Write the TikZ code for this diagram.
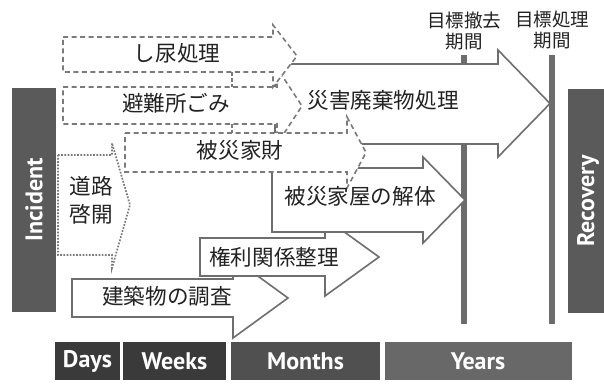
\documentclass[tikz,border=0pt]{standalone}
\usepackage{fontspec}
\newfontfamily\jpfont{Noto Sans CJK JP}
\newfontfamily\enfont{PT Sans}
\definecolor{solidg}{HTML}{6E6E6E}
\definecolor{dashg}{HTML}{7A7A7A}
\definecolor{vlineg}{HTML}{6C6C6C}
\definecolor{darkbar}{HTML}{3A3A3A}
\definecolor{midbar}{HTML}{505050}
\definecolor{lightbar}{HTML}{686868}
\definecolor{sidebar}{HTML}{5A5A5A}
\definecolor{jptext}{HTML}{222222}
\begin{document}
\begin{tikzpicture}[x=1pt,y=-1pt,
  solidarrow/.style={draw=solidg, line width=1.6pt, fill=white, line join=miter},
  dasharrow/.style={draw=dashg, line width=1.6pt, fill=white, dash pattern=on 5pt off 3.5pt},
  dashtick/.style={draw=dashg, line width=1.6pt, dash pattern=on 4pt off 2pt},
  dotarrow/.style={draw=dashg, line width=1.7pt, fill=white, dash pattern=on 1.7pt off 1.5pt},
  vline/.style={draw=vlineg, line width=6pt},
  jtext/.style={font=\jpfont\fontsize{21.6}{28}\selectfont, text=jptext, inner sep=0pt},
  toptext/.style={font=\jpfont\fontsize{18.5}{21}\selectfont, text=jptext, inner sep=0pt, align=center},
  bar/.style={font=\enfont\bfseries\fontsize{24}{26}\selectfont, text=white, inner sep=0pt, draw=none}
]
\useasboundingbox (0,0) rectangle (604,383);
\fill[white] (0,0) rectangle (604,383);

% target lines
\coordinate (v1t) at (464,55); \coordinate (v1b) at (464,324);
\coordinate (v2t) at (552,55); \coordinate (v2b) at (552,324);
\draw[vline] (v1t) -- (v1b);

% big arrow
\draw[solidarrow] (275,64) -- (498,64) -- (498,50) -- (550,103.5) -- (498,157) -- (498,144) -- (275,144) -- cycle;
\draw[vline] (v2t) -- (v2b);

% 建築物の調査
\draw[solidarrow] (72,279) -- (233,279) -- (233,258) -- (288,298) -- (233,338) -- (233,317) -- (72,317) -- cycle;
% 権利関係整理
\draw[solidarrow] (200,238) -- (325,238) -- (325,218) -- (379,257) -- (325,296) -- (325,276) -- (200,276) -- cycle;
% 被災家屋の解体
\draw[solidarrow] (272,168) -- (423,168) -- (423,157) -- (465,200) -- (423,243) -- (423,232) -- (272,232) -- cycle;

% 避難所ごみ
\draw[dasharrow] (63,87) -- (277,87) -- (277,68) -- (302,106) -- (277,144) -- (277,124) -- (63,124) -- cycle;
% 被災家財
\draw[dasharrow] (125,133) -- (347,133) -- (347,117) -- (366,152.5) -- (347,188) -- (347,172) -- (125,172) -- cycle;
% し尿処理
\draw[dasharrow] (63,37) -- (273,37) -- (273,25) -- (297,56) -- (273,87) -- (273,72) -- (63,72) -- cycle;
% ticks
\coordinate (k1a) at (232,72); \coordinate (k1b) at (232,87);
\coordinate (k2a) at (232,124); \coordinate (k2b) at (232,133);
\draw[dashtick] (k1a) -- (k1b);
\draw[dashtick] (k2a) -- (k2b);
% 道路啓開
\draw[dotarrow] (58,155) -- (112,155) -- (112,143) -- (130,205) -- (112,268) -- (112,255) -- (58,255) -- cycle;

% labels
\node[jtext] (t1) at (177,53) {し尿処理};
\node[jtext] (t2) at (176,103.5) {避難所ごみ};
\node[jtext] (t3) at (240,150) {被災家財};
\node[jtext] (t4) at (383,100) {災害廃棄物処理};
\node[jtext] (t5) at (360,196) {被災家屋の解体};
\node[jtext] (t6) at (274,257) {権利関係整理};
\node[jtext] (t7) at (167,296) {建築物の調査};
\node[jtext, align=center] (t8) at (91,200) {道路\\啓開};
\node[toptext] (l1) at (464,30.5) {目標撤去\\期間};
\node[toptext] (l2) at (552,30.5) {目標処理\\期間};

% side bars
\node[bar, fill=sidebar, minimum width=224pt, minimum height=44pt, rotate=90] (incident) at (34,200) {Incident};
\node[bar, fill=sidebar, minimum width=224pt, minimum height=40pt, rotate=90] (recovery) at (588,201) {Recovery};

% time scale
\node[bar, fill=darkbar, minimum width=65pt, minimum height=38pt] (days) at (87.5,361) {Days};
\node[bar, fill=darkbar, minimum width=103pt, minimum height=38pt] (weeks) at (174.5,361) {Weeks};
\node[bar, fill=midbar, minimum width=149pt, minimum height=38pt] (months) at (305.5,361) {Months};
\node[bar, fill=lightbar, minimum width=187pt, minimum height=38pt] (years) at (478,361) {Years};
\end{tikzpicture}
\end{document}
